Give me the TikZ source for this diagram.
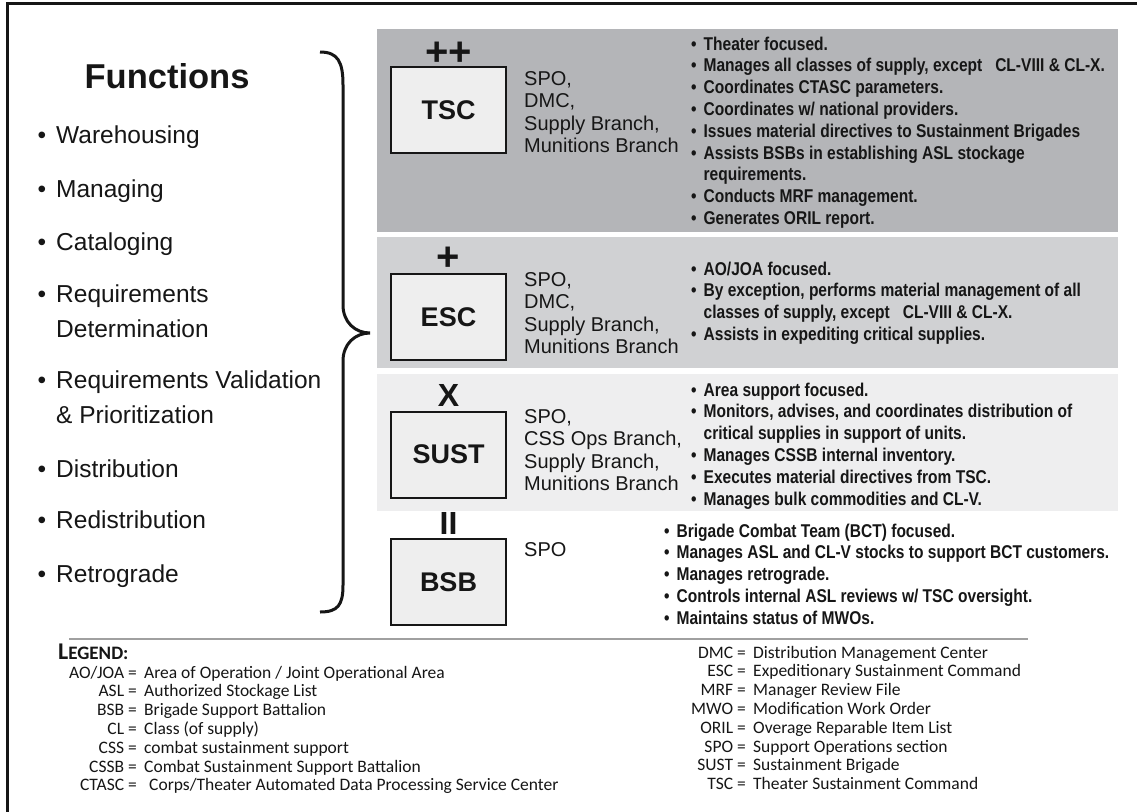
\documentclass[tikz,border=0pt]{standalone}
\usepackage{fontspec}
\setmainfont{Liberation Sans}
\newfontfamily\nbf{Liberation Sans}[FakeStretch=0.84]
\newfontfamily\legfont{Carlito}
\definecolor{bandA}{RGB}{180,181,184}
\definecolor{bandB}{RGB}{208,209,211}
\definecolor{bandC}{RGB}{238,238,239}
\definecolor{boxfill}{RGB}{238,238,238}
\definecolor{ink}{RGB}{22,22,22}
\definecolor{rule}{RGB}{160,160,160}
\newcommand\mylines[1]{\begin{tabular}[t]{@{}l@{}}#1\end{tabular}}
\newcommand\mybul[1]{\begin{tabular}[t]{@{}l@{\hspace{7pt}}l@{}}#1\end{tabular}}
\newcommand\myright[1]{\begin{tabular}[t]{@{}r@{}}#1\end{tabular}}
\begin{document}
\begin{tikzpicture}[x=1pt,y=-1pt,
  ebox/.style={draw=ink, line width=2pt, fill=boxfill, minimum width=115pt, minimum height=86pt, inner sep=0pt, font=\fontsize{27}{30}\selectfont\bfseries, text=ink},
  ech/.style={inner sep=0pt, font=\fontsize{32}{34}\selectfont\bfseries, text=ink},
  plusech/.style={inner sep=0pt, font=\fontsize{40}{42}\selectfont\bfseries, text=ink},
  org/.style={anchor=base west, inner sep=0pt, font=\fontsize{20}{22.5}\selectfont, text=ink},
  bul/.style={anchor=base west, inner sep=0pt, font=\nbf\bfseries\fontsize{18.5}{21.8}\selectfont, text=ink},
  fitem/.style={anchor=base west, inner sep=0pt, font=\fontsize{24.5}{28}\selectfont, text=ink},
  legab/.style={anchor=base east, inner sep=0pt, font=\legfont\fontsize{17.5}{18.8}\selectfont, text=ink},
  legdef/.style={anchor=base west, inner sep=0pt, font=\legfont\fontsize{17.5}{18.8}\selectfont, text=ink},
]
\useasboundingbox (0,0) rectangle (1137,811);
\fill[white] (0,0) rectangle (1137,811);
% frame
\draw[ink, line width=3pt] (7,815) -- (7,3) -- (1140,3);
% bands
\fill[bandA] (377,29) rectangle (1118,232);
\fill[bandB] (377,237) rectangle (1118,368);
\fill[bandC] (377,374) rectangle (1118,511);
% brace
\draw[ink, line width=3pt] (320,52) .. controls (338,52) and (343,62) .. (343,85) -- (343,305)
  .. controls (343,322) and (355,333) .. (370,333)
  .. controls (355,333) and (343,344) .. (343,361) -- (343,585)
  .. controls (343,605) and (338,612) .. (320,612);
% functions
\node[inner sep=0pt, anchor=base, font=\fontsize{34.5}{38}\selectfont\bfseries, text=ink] (ftitle) at (167,88) {Functions};
\node[fitem] (f1) at (56,143) {\llap{•\hspace{10pt}}Warehousing};
\node[fitem] (f2) at (56,197) {\llap{•\hspace{10pt}}Managing};
\node[fitem] (f3) at (56,250) {\llap{•\hspace{10pt}}Cataloging};
\node[fitem] (f4) at (56,302) {\llap{•\hspace{10pt}}Requirements};
\node[fitem] (f4b) at (56,337) {Determination};
\node[fitem] (f5) at (56,388) {\llap{•\hspace{10pt}}Requirements Validation};
\node[fitem] (f5b) at (56,423) {\& Prioritization};
\node[fitem] (f6) at (56,477) {\llap{•\hspace{10pt}}Distribution};
\node[fitem] (f7) at (56,528) {\llap{•\hspace{10pt}}Redistribution};
\node[fitem] (f8) at (56,582) {\llap{•\hspace{10pt}}Retrograde};
% boxes
\node[ebox] (tsc) at (448.5,110) {TSC};
\node[ebox] (esc) at (448.5,317) {ESC};
\node[ebox] (sust) at (448.5,454.5) {SUST};
\node[ebox] (bsb) at (448.5,582) {BSB};
\node[plusech] (tscech) at (448.5,54) {++};
\node[plusech] (escech) at (448.5,259) {+};
\node[ech] (sustech) at (448.5,395) {X};
\node[ech] (bsbech) at (448.5,523) {II};
% staff
\node[org] (tscorg) at (524,85) {\mylines{SPO,\\DMC,\\Supply Branch,\\Munitions Branch}};
\node[org] (escorg) at (524,286) {\mylines{SPO,\\DMC,\\Supply Branch,\\Munitions Branch}};
\node[org] (sustorg) at (524,423) {\mylines{SPO,\\CSS Ops Branch,\\Supply Branch,\\Munitions Branch}};
\node[org] (bsborg) at (524,556) {SPO};
% bullet lists
\node[bul] (tscb) at (691,50) {\mybul{•&Theater focused.\\
•&Manages all classes of supply, except\ \ \ CL-VIII \& CL-X.\\
•&Coordinates CTASC parameters.\\
•&Coordinates w/ national providers.\\
•&Issues material directives to Sustainment Brigades\\
•&Assists BSBs in establishing ASL stockage\\
&requirements.\\
•&Conducts MRF management.\\
•&Generates ORIL report.}};
\node[bul] (escb) at (691,275) {\mybul{•&AO/JOA focused.\\
•&By exception, performs material management of all\\
&classes of supply, except\ \ \ CL-VIII \& CL-X.\\
•&Assists in expediting critical supplies.}};
\node[bul] (sustb) at (691,396) {\mybul{•&Area support focused.\\
•&Monitors, advises, and coordinates distribution of\\
&critical supplies in support of units.\\
•&Manages CSSB internal inventory.\\
•&Executes material directives from TSC.\\
•&Manages bulk commodities and CL-V.}};
\node[bul] (bsbb) at (664,537) {\mybul{•&Brigade Combat Team (BCT) focused.\\
•&Manages ASL and CL-V stocks to support BCT customers.\\
•&Manages retrograde.\\
•&Controls internal ASL reviews w/ TSC oversight.\\
•&Maintains status of MWOs.}};
% legend
\draw[rule, line width=1.8pt] (69,639) -- (1028,639);
\node[anchor=base west, inner sep=0pt, font=\legfont\bfseries\fontsize{24}{26}\selectfont, text=ink] (legend) at (58,659) {L{\fontsize{19}{20}\selectfont EGEND:}};
\node[legab] (labL) at (137,678) {\myright{AO/JOA =\\ASL =\\BSB =\\CL =\\CSS =\\CSSB =\\CTASC =\hspace{5pt}}};
\node[legdef] (ldefL) at (144,678) {\mylines{Area of Operation / Joint Operational Area\\Authorized Stockage List\\Brigade Support Battalion\\Class (of supply)\\combat sustainment support\\Combat Sustainment Support Battalion\\\hspace{5pt}Corps/Theater Automated Data Processing Service Center}};
\node[legab] (labR) at (746,658) {\myright{DMC =\\ESC =\\MRF =\\MWO =\\ORIL =\\SPO =\\SUST =\\TSC =}};
\node[legdef] (ldefR) at (753,658) {\mylines{Distribution Management Center\\Expeditionary Sustainment Command\\Manager Review File\\Modification Work Order\\Overage Reparable Item List\\Support Operations section\\Sustainment Brigade\\Theater Sustainment Command}};
\end{tikzpicture}
\end{document}
